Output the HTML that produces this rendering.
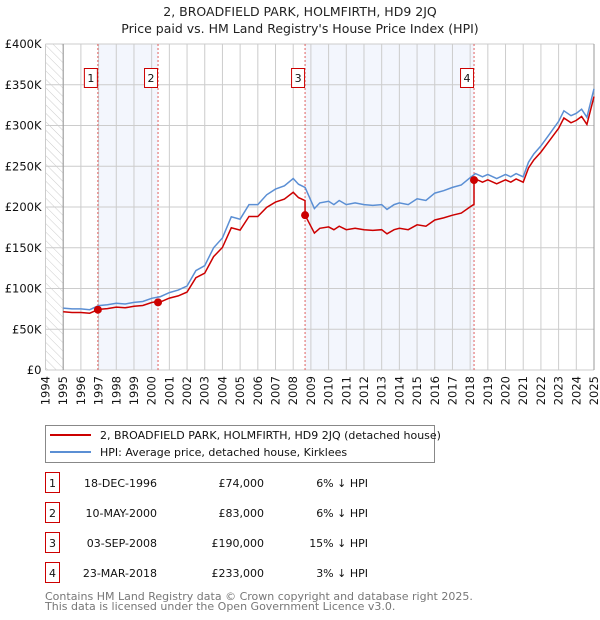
<!DOCTYPE html>
<html><head><meta charset="utf-8"><style>
body{margin:0;background:#fff;width:600px;height:620px;overflow:hidden;font-family:"DejaVu Sans","Liberation Sans",sans-serif}
svg{display:block}
text{font-family:"DejaVu Sans","Liberation Sans",sans-serif}
</style></head><body>
<svg id="c" width="600" height="620">
<defs><pattern id="hatch" width="6" height="6" patternUnits="userSpaceOnUse" patternTransform="rotate(-45)"><line x1="0" y1="0" x2="0" y2="6" stroke="#ccc" stroke-width="1"/></pattern></defs>
<text x="300" y="16" text-anchor="middle" font-size="12.5" fill="#222">2, BROADFIELD PARK, HOLMFIRTH, HD9 2JQ</text>
<text x="300" y="33" text-anchor="middle" font-size="12.5" fill="#222">Price paid vs. HM Land Registry's House Price Index (HPI)</text>
<g id="plot"></g>
<g>
<rect x="45.5" y="425.5" width="389" height="37" fill="#fff" stroke="#888"/>
<line x1="50" y1="435" x2="91" y2="435" stroke="#cc0000" stroke-width="2"/>
<text x="100" y="439" font-size="11" fill="#111">2, BROADFIELD PARK, HOLMFIRTH, HD9 2JQ (detached house)</text>
<line x1="50" y1="452" x2="91" y2="452" stroke="#5b8fd4" stroke-width="2"/>
<text x="100" y="456" font-size="11" fill="#111">HPI: Average price, detached house, Kirklees</text>
</g>
<g id="table"></g>
<text x="45" y="600" font-size="11" fill="#777">Contains HM Land Registry data © Crown copyright and database right 2025.</text>
<text x="45" y="610" font-size="11" fill="#777">This data is licensed under the Open Government Licence v3.0.</text>
</svg>
<script>
const hpiYears=[1995,1995.5,1996,1996.5,1997,1997.5,1998,1998.5,1999,1999.5,2000,2000.5,2001,2001.5,2002,2002.5,2003,2003.5,2004,2004.5,2005,2005.5,2006,2006.5,2007,2007.5,2008,2008.3,2008.67,2009.2,2009.5,2010,2010.3,2010.6,2011,2011.5,2012,2012.5,2013,2013.3,2013.7,2014,2014.5,2015,2015.5,2016,2016.5,2017,2017.5,2018,2018.3,2018.7,2019,2019.5,2020,2020.3,2020.6,2021,2021.3,2021.6,2022,2022.5,2023,2023.3,2023.7,2024,2024.3,2024.6,2025];
const hpiValues=[76,75,75,74,79,80,82,81,83,84,88,90,95,98,103,122,128,150,162,188,185,203,203,215,222,226,235,228,224,198,205,207,203,208,203,205,203,202,203,197,203,205,203,210,208,217,220,224,227,236,241,237,240,235,240,237,241,237,255,265,275,290,305,318,312,315,320,310,345];
const saleYears=[1996.96,2000.36,2008.67,2018.22];
const salePrices=[74,83,190,233];
const saleDates=["18-DEC-1996","10-MAY-2000","03-SEP-2008","23-MAR-2018"];
const salePriceLabels=["£74,000","£83,000","£190,000","£233,000"];
const saleDiffs=["6% ↓ HPI","6% ↓ HPI","15% ↓ HPI","3% ↓ HPI"];
const yTicks=[0,50,100,150,200,250,300,350,400];
const yTickLabels=["£0","£50K","£100K","£150K","£200K","£250K","£300K","£350K","£400K"];
const xTicks=[1994,1995,1996,1997,1998,1999,2000,2001,2002,2003,2004,2005,2006,2007,2008,2009,2010,2011,2012,2013,2014,2015,2016,2017,2018,2019,2020,2021,2022,2023,2024,2025];

const NS="http://www.w3.org/2000/svg";
const X0=45.5,X1=594,Y0=370,Y1=44;
const xs=y=>X0+(y-1994)/31*(X1-X0);
const ys=v=>Y0-v/400*(Y0-Y1);
function mk(tag,attrs,parent){const e=document.createElementNS(NS,tag);for(const k in attrs)e.setAttribute(k,attrs[k]);parent.appendChild(e);return e;}
const plot=document.getElementById('plot');
const n=Math.min(hpiYears.length,hpiValues.length);
function hpiAt(t){if(t<=hpiYears[0])return hpiValues[0];for(let i=1;i<n;i++){if(t<=hpiYears[i]){const a=hpiYears[i-1],b=hpiYears[i];return hpiValues[i-1]+(hpiValues[i]-hpiValues[i-1])*(t-a)/(b-a);}}return hpiValues[n-1];}
mk('rect',{x:X0,y:Y1,width:X1-X0,height:Y0-Y1,fill:'#fff'},plot);
const hatch=mk('rect',{x:X0,y:Y1,width:xs(1995)-X0,height:Y0-Y1,fill:'url(#hatch)'},plot);


[[0,1],[2,3]].forEach(p=>{const r=mk('rect',{x:xs(saleYears[p[0]]),y:Y1,width:xs(saleYears[p[1]])-xs(saleYears[p[0]]),height:Y0-Y1,fill:'#f3f6fd'},plot);

});
xTicks.forEach((t,i)=>{mk('line',{x1:xs(t),x2:xs(t),y1:Y1,y2:Y0,stroke:'#ccc','stroke-width':1},plot);
const tx=mk('text',{x:0,y:0,'font-size':11.5,fill:'#111','text-anchor':'end',transform:`translate(${xs(t)+4},${Y0+6}) rotate(-90)`},plot);tx.textContent=t;

});
yTicks.forEach((v,i)=>{mk('line',{x1:X0,x2:X1,y1:ys(v),y2:ys(v),stroke:'#ccc','stroke-width':1},plot);
const tx=mk('text',{x:X0-4,y:ys(v)+4,'font-size':11.5,fill:'#111','text-anchor':'end'},plot);tx.textContent=yTickLabels[i];

});
mk('line',{x1:xs(1995),x2:xs(1995),y1:Y1,y2:Y0,stroke:'#999'},plot);
mk('line',{x1:X1,x2:X1,y1:Y1,y2:Y0,stroke:'#999'},plot);
saleYears.forEach((t,i)=>{const l=mk('line',{x1:xs(t),x2:xs(t),y1:Y1,y2:Y0,stroke:'#e06060','stroke-dasharray':'2,2'},plot);


const g=mk('g',{},plot);


mk('rect',{x:xs(t)-13.5,y:68.5,width:13,height:19,fill:'#fff',stroke:'#cc0000'},g);
const tx=mk('text',{x:xs(t)-7,y:82,'font-size':11,'text-anchor':'middle',fill:'#111'},g);tx.textContent=i+1;});
let d='';for(let i=0;i<n;i++)d+=(i?'L':'M')+xs(hpiYears[i]).toFixed(1)+','+ys(hpiValues[i]).toFixed(1);
const hl=mk('path',{d:d,fill:'none',stroke:'#5b8fd4','stroke-width':1.5},plot);


function ratioAt(t){let k=0;for(let i=0;i<saleYears.length;i++)if(t>=saleYears[i])k=i;return salePrices[k]/hpiAt(saleYears[k]);}
const pts=[];for(let i=0;i<n;i++)pts.push(hpiYears[i]);saleYears.forEach(s=>{pts.push(s-0.001);pts.push(s);});pts.sort((a,b)=>a-b);
let d2='';pts.forEach((t,i)=>{d2+=(i?'L':'M')+xs(t).toFixed(1)+','+ys(hpiAt(t)*ratioAt(t)).toFixed(1);});
const pl=mk('path',{d:d2,fill:'none',stroke:'#cc0000','stroke-width':1.5},plot);


saleYears.forEach((t,i)=>{const c=mk('circle',{cx:xs(t),cy:ys(salePrices[i]),r:4,fill:'#cc0000'},plot);

});
const tb=document.getElementById('table');
saleDates.forEach((s,i)=>{const y=483+i*30;
const g=mk('g',{},tb);


mk('rect',{x:45.5,y:y-10.5,width:14,height:20,fill:'#fff',stroke:'#cc0000'},g);
let t=mk('text',{x:52.5,y:y+4,'font-size':11,'text-anchor':'middle',fill:'#111'},g);t.textContent=i+1;
t=mk('text',{x:157,y:y+4,'font-size':11,'text-anchor':'end',fill:'#111'},g);t.textContent=s;
t=mk('text',{x:264,y:y+4,'font-size':11,'text-anchor':'end',fill:'#111'},g);t.textContent=salePriceLabels[i];
t=mk('text',{x:368,y:y+4,'font-size':11,'text-anchor':'end',fill:'#111'},g);t.textContent=saleDiffs[i];});
</script>
</body></html>
